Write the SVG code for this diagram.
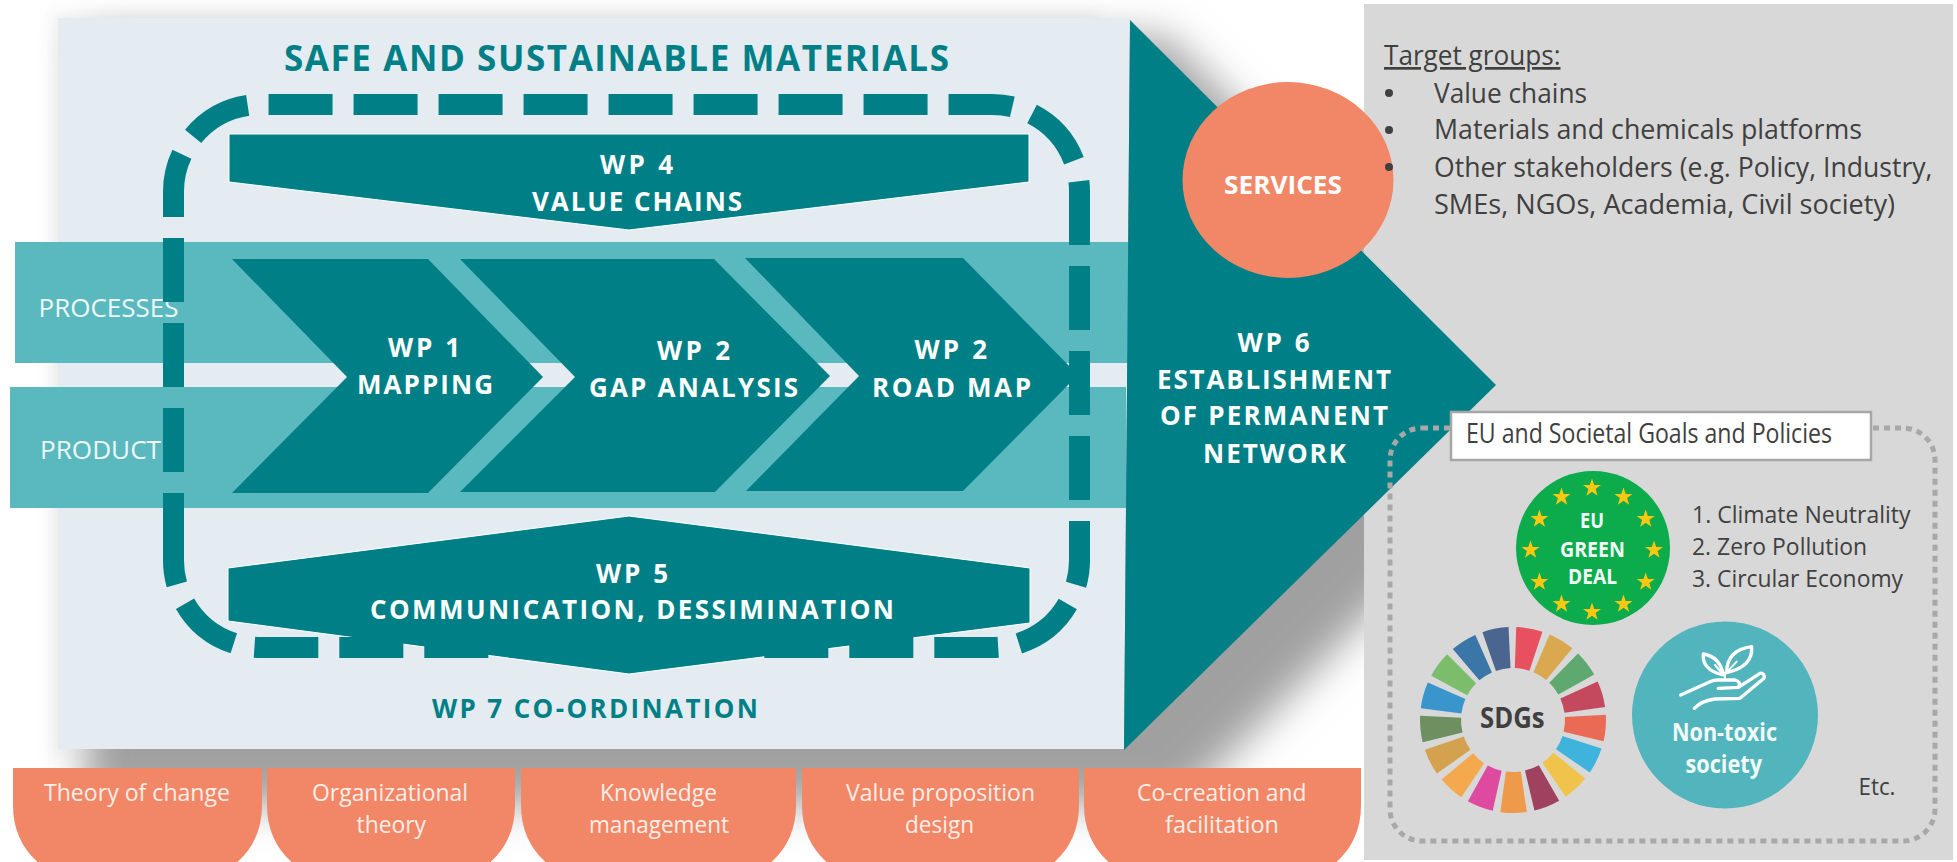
<svg xmlns="http://www.w3.org/2000/svg" xmlns:xlink="http://www.w3.org/1999/xlink" width="1957" height="862" viewBox="0 0 1957 862">
<defs>
<filter id="soft" filterUnits="userSpaceOnUse" x="0" y="0" width="1957" height="862"><feGaussianBlur stdDeviation="20"/></filter>
<filter id="softer" filterUnits="userSpaceOnUse" x="0" y="0" width="1957" height="862"><feGaussianBlur stdDeviation="7"/></filter>
<polygon id="star" points="0,-9.5 2.2,-3 9,-2.9 3.6,1.1 5.6,7.7 0,3.8 -5.6,7.7 -3.6,1.1 -9,-2.9 -2.2,-3" fill="#ffc711"/>
</defs>
<style>
text{font-family:"Open Sans","Noto Sans",sans-serif}
.wp{font-size:26px;font-weight:700;fill:#fff}
.teal{fill:#008086}
.band{fill:#5ab8bf}
.lab{font-size:26px;fill:#eef8f9}
.tab{fill:#f28767}
.tabt{font-size:24px;fill:#fdeee8}
.dk{font-size:27px;fill:#404040}
.lst{font-size:24px;fill:#404040}
.wh{font-weight:700;fill:#f2fbf7}
.seg{fill:none;stroke-width:41}
</style>
<rect width="1957" height="862" fill="#fff"/>
<g id="shadow">
<polygon points="50,12 1100,12 1100,60 50,760" fill="#a0a0a0" opacity="0.12" filter="url(#softer)"/>
<polygon points="85,36 1166,36 1557,427 1180,805 85,805" fill="#a0a0a0" filter="url(#soft)"/>
</g>
<rect id="side-panel" x="1364" y="4" width="589" height="856" fill="#d8d8d8"/>
<polygon id="main-panel" points="58,18 1130,18 1124,749 58,749" fill="#e4ecf1"/>
<g id="bands">
<rect class="band" x="15" y="242" width="1114" height="121"/>
<rect class="band" x="10" y="387" width="1116" height="121"/>
<text class="lab" x="38.5" y="317" textLength="140" lengthAdjust="spacingAndGlyphs">PROCESSES</text>
<text class="lab" x="40" y="459" textLength="121" lengthAdjust="spacingAndGlyphs">PRODUCT</text>
</g>
<g id="title"><text x="284" y="71" font-size="35" font-weight="700" class="teal" textLength="665">SAFE AND SUSTAINABLE MATERIALS</text></g>
<g id="wp1"><polygon class="teal" points="232,259 428,259 543,377 428,493 232,493 347,377"/>
<text class="wp" x="388" y="357" textLength="72">WP 1</text><text class="wp" x="357" y="394" textLength="136">MAPPING</text></g>
<g id="wp2-gap"><polygon class="teal" points="460,259 714,259 830,376 715,492 460,492 575,377"/>
<text class="wp" x="657" y="360" textLength="73">WP 2</text><text class="wp" x="589" y="397" textLength="209">GAP ANALYSIS</text></g>
<g id="wp2-road"><polygon class="teal" points="745,258 963,258 1078,375 963,491 746,491 859,376"/>
<text class="wp" x="914.5" y="359" textLength="72.5">WP 2</text><text class="wp" x="872" y="397" textLength="159">ROAD MAP</text></g>
<g id="wp4"><polygon class="teal" points="229,134 1029,134 1029,182 629,230 229,182" stroke="#fff" stroke-width="1"/>
<text class="wp" x="600" y="174" textLength="73">WP 4</text><text class="wp" x="532" y="211" textLength="210">VALUE CHAINS</text></g>
<g id="wp5"><polygon class="teal" points="228,568 629,516 1030,568 1030,623 629,674 228,621" stroke="#fff" stroke-width="1"/>
<text class="wp" x="596" y="583" textLength="72">WP 5</text><text class="wp" x="370" y="619" textLength="524">COMMUNICATION, DESSIMINATION</text></g>
<g id="connectors"><path d="M173.5,557V191.5A87,87 0 0 1 260.5,104.5H992.5A87,87 0 0 1 1079.5,191.5V560.5A87,87 0 0 1 992.5,647.5H260.5A87,87 0 0 1 173.5,560.5Z" fill="none" stroke="#008086" stroke-width="21" stroke-dasharray="64 21"/></g>
<g id="wp7"><text class="teal" x="432" y="718" font-size="26" font-weight="700" textLength="326">WP 7 CO-ORDINATION</text></g>
<g id="wp6"><polygon class="teal" points="1130,20 1496,385 1124,750"/>
<text class="wp" x="1237.5" y="352" textLength="72">WP 6</text><text class="wp" x="1157" y="389" textLength="234">ESTABLISHMENT</text><text class="wp" x="1160" y="425" textLength="228">OF PERMANENT</text><text class="wp" x="1203" y="463" textLength="143">NETWORK</text></g>
<g id="services"><ellipse cx="1288" cy="180" rx="105.5" ry="98" fill="#f28767"/>
<text x="1224" y="194" font-size="25" font-weight="700" fill="#fff" textLength="118" lengthAdjust="spacingAndGlyphs">SERVICES</text></g>
<g id="target-groups">
<text class="dk" x="1384" y="65" textLength="176.5" lengthAdjust="spacingAndGlyphs" text-decoration="underline">Target groups:</text>
<circle cx="1389" cy="93" r="4" fill="#404040"/><circle cx="1389" cy="130" r="4" fill="#404040"/><circle cx="1389" cy="167" r="4" fill="#404040"/>
<text class="dk" x="1434" y="103" textLength="153" lengthAdjust="spacingAndGlyphs">Value chains</text>
<text class="dk" x="1434" y="139" textLength="428" lengthAdjust="spacingAndGlyphs">Materials and chemicals platforms</text>
<text class="dk" x="1434" y="177" textLength="498.5" lengthAdjust="spacingAndGlyphs">Other stakeholders (e.g. Policy, Industry,</text>
<text class="dk" x="1434" y="214" textLength="461" lengthAdjust="spacingAndGlyphs">SMEs, NGOs, Academia, Civil society)</text>
</g>
<g id="tabs">
<path class="tab" d="M13,768H262V805Q262,845 230,868H45Q13,845 13,805Z"/>
<path class="tab" d="M267,768H515V805Q515,845 483,868H299Q267,845 267,805Z"/>
<path class="tab" d="M521,768H796V805Q796,845 764,868H553Q521,845 521,805Z"/>
<path class="tab" d="M802,768H1079V805Q1079,845 1047,868H834Q802,845 802,805Z"/>
<path class="tab" d="M1084,768H1361V805Q1361,845 1329,868H1116Q1084,845 1084,805Z"/>
<text class="tabt" x="44" y="801" textLength="186" lengthAdjust="spacingAndGlyphs">Theory of change</text>
<text class="tabt" x="312" y="801" textLength="156" lengthAdjust="spacingAndGlyphs">Organizational</text>
<text class="tabt" x="356.5" y="833" textLength="69.5" lengthAdjust="spacingAndGlyphs">theory</text>
<text class="tabt" x="600" y="801" textLength="117" lengthAdjust="spacingAndGlyphs">Knowledge</text>
<text class="tabt" x="589" y="833" textLength="140" lengthAdjust="spacingAndGlyphs">management</text>
<text class="tabt" x="846" y="801" textLength="189" lengthAdjust="spacingAndGlyphs">Value proposition</text>
<text class="tabt" x="905" y="833" textLength="69" lengthAdjust="spacingAndGlyphs">design</text>
<text class="tabt" x="1137" y="801" textLength="169.5" lengthAdjust="spacingAndGlyphs">Co-creation and</text>
<text class="tabt" x="1165" y="833" textLength="114" lengthAdjust="spacingAndGlyphs">facilitation</text>
</g>
<g id="goals">
<rect x="1390" y="428" width="545" height="413" rx="32" fill="none" stroke="#a8a8a8" stroke-width="5" stroke-dasharray="6 5"/>
<rect x="1451" y="412" width="420" height="48" fill="#fff" stroke="#a6a6a6" stroke-width="2.5"/>
<text class="dk" x="1466" y="443" textLength="366" lengthAdjust="spacingAndGlyphs">EU and Societal Goals and Policies</text>
</g>
<g id="green-deal">
<circle cx="1593" cy="548" r="77" fill="#0cab4c"/>
<use href="#star" x="1592" y="488"/><use href="#star" x="1623.5" y="497"/><use href="#star" x="1645.7" y="519"/><use href="#star" x="1654" y="550"/><use href="#star" x="1645.7" y="582"/><use href="#star" x="1623.5" y="604"/><use href="#star" x="1592" y="612"/><use href="#star" x="1561.5" y="604"/><use href="#star" x="1539.4" y="582"/><use href="#star" x="1530.5" y="550"/><use href="#star" x="1539.4" y="519"/><use href="#star" x="1561.5" y="497"/>
<text class="wh" x="1580" y="528" font-size="21" textLength="24" lengthAdjust="spacingAndGlyphs">EU</text>
<text class="wh" x="1560" y="557" font-size="21" textLength="65" lengthAdjust="spacingAndGlyphs">GREEN</text>
<text class="wh" x="1568" y="584" font-size="21" textLength="49" lengthAdjust="spacingAndGlyphs">DEAL</text>
</g>
<g id="eu-goals">
<text class="lst" x="1692" y="523" textLength="218.5" lengthAdjust="spacingAndGlyphs">1. Climate Neutrality</text>
<text class="lst" x="1692" y="555" textLength="175" lengthAdjust="spacingAndGlyphs">2. Zero Pollution</text>
<text class="lst" x="1692" y="587" textLength="211" lengthAdjust="spacingAndGlyphs">3. Circular Economy</text>
</g>
<g id="sdgs">
<g transform="translate(1513,720)">
<circle class="seg" r="72.5" pathLength="360" stroke-dasharray="16.5 343.5" stroke="#e8505f" transform="rotate(-88)"/>
<circle class="seg" r="72.5" pathLength="360" stroke-dasharray="16.5 343.5" stroke="#d9a84f" transform="rotate(-66.82)"/>
<circle class="seg" r="72.5" pathLength="360" stroke-dasharray="16.5 343.5" stroke="#5fa870" transform="rotate(-45.65)"/>
<circle class="seg" r="72.5" pathLength="360" stroke-dasharray="16.5 343.5" stroke="#c4495f" transform="rotate(-24.47)"/>
<circle class="seg" r="72.5" pathLength="360" stroke-dasharray="16.5 343.5" stroke="#eb6a55" transform="rotate(-3.29)"/>
<circle class="seg" r="72.5" pathLength="360" stroke-dasharray="16.5 343.5" stroke="#3eb3dc" transform="rotate(17.88)"/>
<circle class="seg" r="72.5" pathLength="360" stroke-dasharray="16.5 343.5" stroke="#f0c34a" transform="rotate(39.06)"/>
<circle class="seg" r="72.5" pathLength="360" stroke-dasharray="16.5 343.5" stroke="#a0415f" transform="rotate(60.24)"/>
<circle class="seg" r="72.5" pathLength="360" stroke-dasharray="16.5 343.5" stroke="#ee9a4a" transform="rotate(81.41)"/>
<circle class="seg" r="72.5" pathLength="360" stroke-dasharray="16.5 343.5" stroke="#dd4aa0" transform="rotate(102.59)"/>
<circle class="seg" r="72.5" pathLength="360" stroke-dasharray="16.5 343.5" stroke="#f5a94e" transform="rotate(123.76)"/>
<circle class="seg" r="72.5" pathLength="360" stroke-dasharray="16.5 343.5" stroke="#d4a24f" transform="rotate(144.94)"/>
<circle class="seg" r="72.5" pathLength="360" stroke-dasharray="16.5 343.5" stroke="#6e8f60" transform="rotate(166.12)"/>
<circle class="seg" r="72.5" pathLength="360" stroke-dasharray="16.5 343.5" stroke="#3a95cd" transform="rotate(187.29)"/>
<circle class="seg" r="72.5" pathLength="360" stroke-dasharray="16.5 343.5" stroke="#7cbd6b" transform="rotate(208.47)"/>
<circle class="seg" r="72.5" pathLength="360" stroke-dasharray="16.5 343.5" stroke="#3a77a8" transform="rotate(229.65)"/>
<circle class="seg" r="72.5" pathLength="360" stroke-dasharray="16.5 343.5" stroke="#4a6690" transform="rotate(250.82)"/>
</g>
<text x="1480" y="728" font-size="28" font-weight="700" fill="#404040" textLength="64.6" lengthAdjust="spacingAndGlyphs">SDGs</text>
</g>
<g id="non-toxic">
<ellipse cx="1725" cy="715" rx="93" ry="93.5" fill="#52b5be"/>
<g transform="translate(1660,630) scale(0.3333)" fill="none" stroke="#fff" stroke-width="10" stroke-linecap="round" stroke-linejoin="round">
<path d="M62,195L150,155Q160,150 175,150L225,150Q245,155 235,172L175,175"/>
<path d="M235,172L300,130Q315,128 312,145L240,205L165,207Q125,212 103,235"/>
<path d="M190,135Q180,80 130,72Q125,120 190,135Z"/>
<path d="M200,128Q200,60 275,50Q280,110 200,128Z"/>
<path d="M195,150V128M165,105L190,135M230,95L202,125" stroke-width="6"/>
</g>
<text class="wh" x="1672" y="741" font-size="25" fill="#fff" textLength="105" lengthAdjust="spacingAndGlyphs">Non-toxic</text>
<text class="wh" x="1685.5" y="773" font-size="25" fill="#fff" textLength="76.5" lengthAdjust="spacingAndGlyphs">society</text>
</g>
<g id="etc"><text class="lst" x="1858.5" y="795" textLength="37" lengthAdjust="spacingAndGlyphs">Etc.</text></g>
</svg>
